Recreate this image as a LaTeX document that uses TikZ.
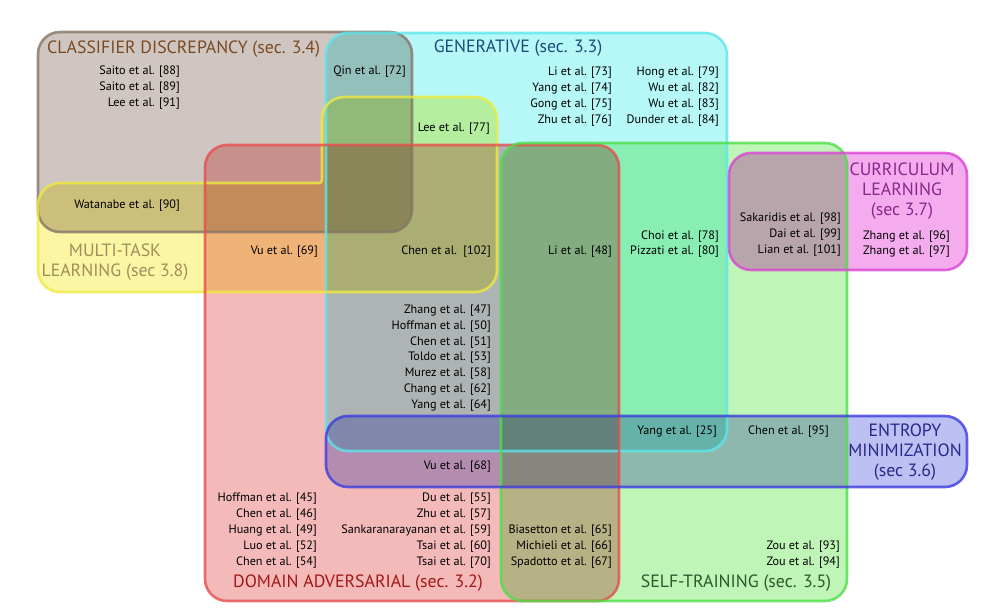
\documentclass[tikz,border=0pt]{standalone}
\usepackage{fontspec}
\setmainfont{PT Sans}
\usetikzlibrary{positioning}
\definecolor{Cdc}{HTML}{D0C6C1}
\definecolor{Cdl}{HTML}{857668}
\definecolor{Cdt}{HTML}{7A4A22}
\definecolor{Gnc}{HTML}{B6F8F8}
\definecolor{Gnl}{HTML}{5EE6EC}
\definecolor{Gnt}{HTML}{1B4B78}
\definecolor{Mtc}{HTML}{FBF6A4}
\definecolor{Mtl}{HTML}{EEEA40}
\definecolor{Mtt}{HTML}{A48C5C}
\definecolor{Dac}{HTML}{F4BABA}
\definecolor{Dal}{HTML}{E84E4E}
\definecolor{Dat}{HTML}{A31818}
\definecolor{Stc}{HTML}{C0F5B8}
\definecolor{Stl}{HTML}{4EDE48}
\definecolor{Stt}{HTML}{2C582C}
\definecolor{Clc}{HTML}{F5ACEE}
\definecolor{Cll}{HTML}{DC44D4}
\definecolor{Clt}{HTML}{88288A}
\definecolor{Emc}{HTML}{BDC0F2}
\definecolor{Eml}{HTML}{3C3CE0}
\definecolor{Emt}{HTML}{28288A}
\tikzset{
  region/.style={rounded corners=22pt},
  edge/.style={rounded corners=22pt, line width=2.6pt, draw opacity=0.8},
  ref/.style={font=\fontsize{12.2}{14}\selectfont, inner sep=0pt, anchor=east},
  ttl/.style={font=\fontsize{17.8}{20}\selectfont, inner sep=0pt, align=center},
}
% outlines of the seven areas
\newcommand{\Cdarea}{(38,32) rectangle (412,232)}
\newcommand{\Gnarea}{(326,33) rectangle (727,451)}
\newcommand{\Mtarea}{(322,140) [rounded corners=22pt] -- (322,97) -- (497,97) -- (497,292)
  -- (38,292) -- (38,183) [rounded corners=3pt] -- (322,183) -- cycle}
\newcommand{\Daarea}{(205,145) rectangle (619,601)}
\newcommand{\Starea}{(501,143) rectangle (847,601)}
\newcommand{\Clarea}{(729,153) rectangle (967,270)}
\newcommand{\Emarea}{(326,416) rectangle (967,487)}

\begin{document}
\begin{tikzpicture}[x=1pt, y=-1pt]
  \useasboundingbox (0,0) rectangle (985,615);
  \begin{scope}[blend mode=multiply]
    \fill[region, Cdc] \Cdarea;
    \fill[region, Gnc] \Gnarea;
    \fill[region, Mtc] \Mtarea;
    \fill[region, Dac] \Daarea;
    \fill[region, Stc] \Starea;
    \fill[region, Clc] \Clarea;
    \fill[region, Emc] \Emarea;
  \end{scope}
  \draw[edge, Cdl] \Cdarea;
  \draw[edge, Gnl] \Gnarea;
  \draw[edge, Mtl] \Mtarea;
  \draw[edge, Dal] \Daarea;
  \draw[edge, Stl] \Starea;
  \draw[edge, Cll] \Clarea;
  \draw[edge, Eml] \Emarea;
  % titles
  \node[ttl, anchor=west, text=Cdt] (cdtitle) at (47,49) {CLASSIFIER DISCREPANCY (sec. 3.4)};
  \node[ttl, text=Gnt] (gntitle) at (518,48) {GENERATIVE (sec. 3.3)};
  \node[ttl, text=Mtt] (mttitle) at (115,262) {MULTI-TASK\\LEARNING (sec 3.8)};
  \node[ttl, text=Clt] (cltitle) at (902,191) {CURRICULUM\\LEARNING\\(sec 3.7)};
  \node[ttl, text=Emt] (emtitle) at (905,452) {ENTROPY\\MINIMIZATION\\(sec 3.6)};
  \node[ttl, text=Dat] (datitle) at (358,583) {DOMAIN ADVERSARIAL (sec. 3.2)};
  \node[ttl, text=Stt] (sttitle) at (736,583) {SELF-TRAINING (sec. 3.5)};
  % references
  \foreach \t [count=\i] in {{Saito et al. [88]},{Saito et al. [89]},{Lee et al. [91]}}
    \node[ref] (cd\i) at (180,{56+16*\i}) {\t};
  \node[ref] (watanabe) at (180,206) {Watanabe et al. [90]};
  \node[ref] (qin) at (406,72) {Qin et al. [72]};
  \foreach \t [count=\i] in {{Li et al. [73]},{Yang et al. [74]},{Gong et al. [75]},{Zhu et al. [76]}}
    \node[ref] (gna\i) at (612,{57+16*\i}) {\t};
  \foreach \t [count=\i] in {{Hong et al. [79]},{Wu et al. [82]},{Wu et al. [83]},{Dunder et al. [84]}}
    \node[ref] (gnb\i) at (719,{57+16*\i}) {\t};
  \node[ref] (lee77) at (490,129) {Lee et al. [77]};
  \node[ref] (vu69) at (318,252) {Vu et al. [69]};
  \node[ref] (chen102) at (491,252) {Chen et al.\ ~[102]};
  \node[ref] (li48) at (612,252) {Li et al. [48]};
  \node[ref] (choi) at (719,237) {Choi et al. [78]};
  \node[ref] (pizzati) at (719,252) {Pizzati et al. [80]};
  \foreach \t [count=\i] in {{Sakaridis et al. [98]},{Dai et al. [99]},{Lian et al. [101]}}
    \node[ref] (cl\i) at (841,{203+16*\i}) {\t};
  \node[ref] (zhang96) at (950,237) {Zhang et al. [96]};
  \node[ref] (zhang97) at (950,252) {Zhang et al. [97]};
  \foreach \t [count=\i] in {{Zhang et al. [47]},{Hoffman et al. [50]},{Chen et al. [51]},{Toldo et al. [53]},{Murez et al. [58]},{Chang et al. [62]},{Yang et al. [64]}}
    \node[ref] (mid\i) at (491,{295.3+15.7*\i}) {\t};
  \node[ref] (yang25) at (717,432) {Yang et al. [25]};
  \node[ref] (chen95) at (829,432) {Chen et al. [95]};
  \node[ref] (vu68) at (491,467) {Vu et al. [68]};
  \foreach \t [count=\i] in {{Hoffman et al. [45]},{Chen et al. [46]},{Huang et al. [49]},{Luo et al. [52]},{Chen et al. [54]}}
    \node[ref] (daa\i) at (317,{483+16*\i}) {\t};
  \foreach \t [count=\i] in {{Du et al. [55]},{Zhu et al. [57]},{Sankaranarayanan et al. [59]},{Tsai et al. [60]},{Tsai et al. [70]}}
    \node[ref] (dab\i) at (491,{483+16*\i}) {\t};
  \foreach \t [count=\i] in {{Biasetton et al. [65]},{Michieli et al. [66]},{Spadotto et al. [67]}}
    \node[ref] (dac\i) at (612,{515+16*\i}) {\t};
  \node[ref] (zou93) at (840,547) {Zou et al. [93]};
  \node[ref] (zou94) at (840,563) {Zou et al. [94]};
\end{tikzpicture}
\end{document}
